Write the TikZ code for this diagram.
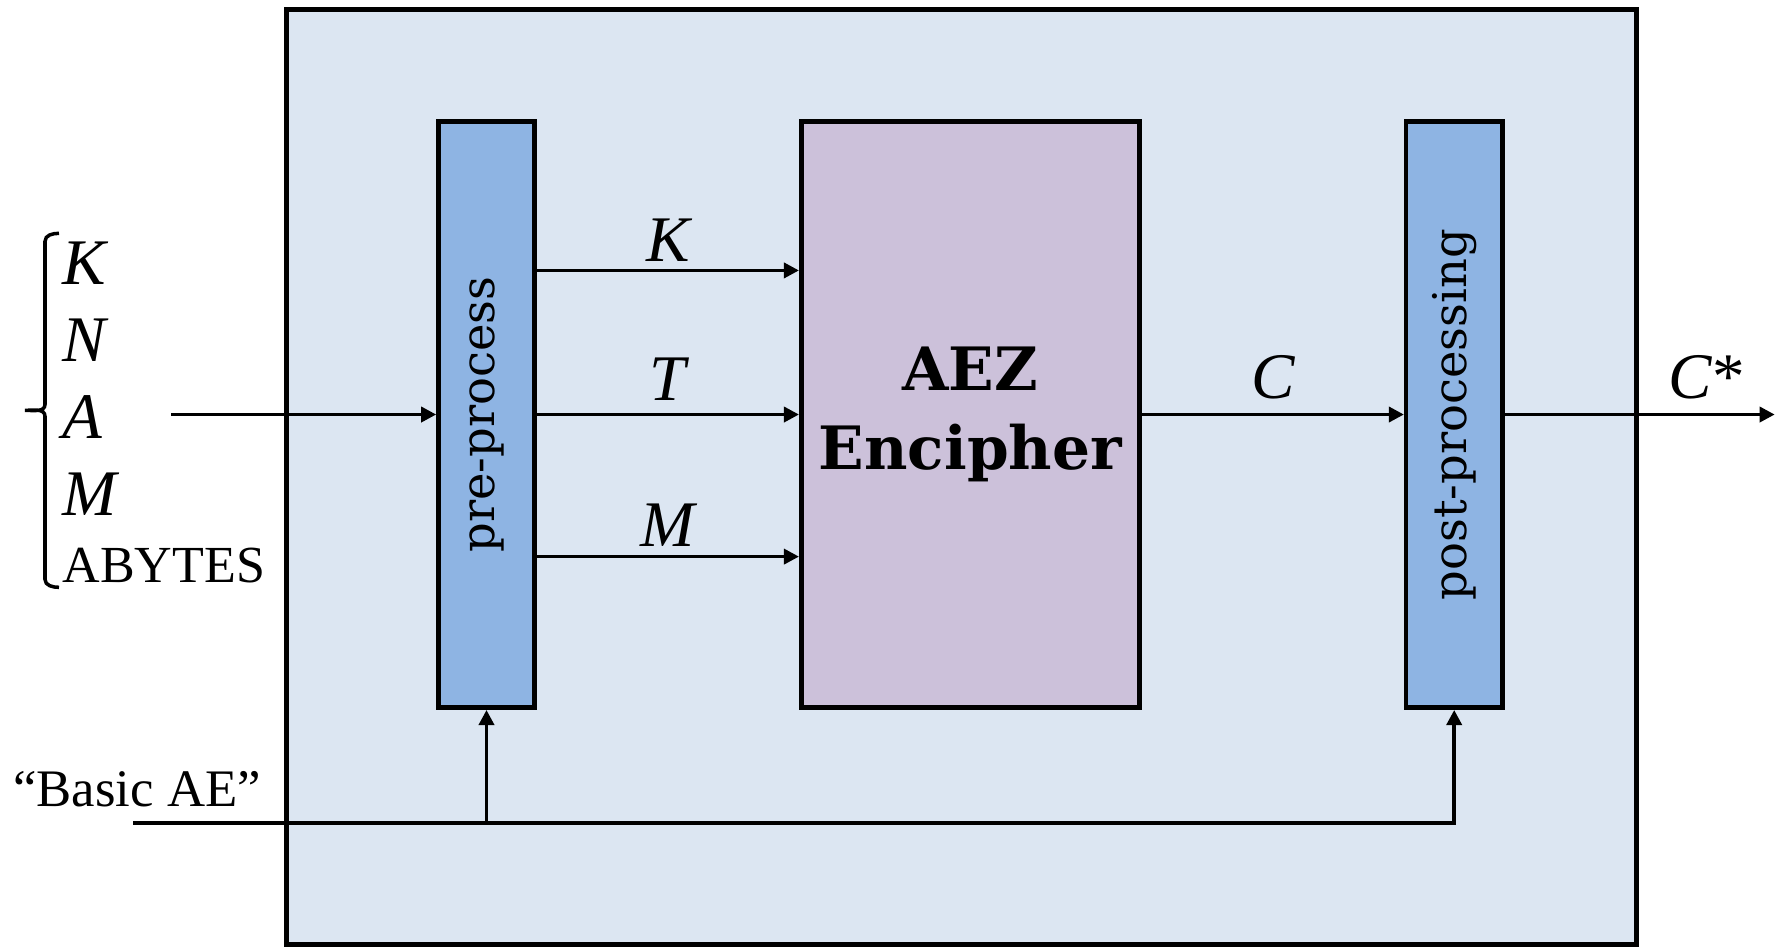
\documentclass[tikz,border=0pt]{standalone}
\usepackage{fontspec}
\setmainfont{Liberation Serif}
\newfontfamily\stagefont{DejaVu Serif}
\usepackage{xcolor}
\usetikzlibrary{arrows.meta, positioning}

\definecolor{framefill}{HTML}{DCE6F2}
\definecolor{stagefill}{HTML}{8EB4E3}
\definecolor{corefill}{HTML}{CCC1DA}

\begin{document}
\begin{tikzpicture}[
    x=0.01cm, y=-0.01cm,
    font=\fontsize{18.5}{21.9}\selectfont,
    node distance=2.62cm and 2.62cm,
    frame/.style={draw, line width=1.4pt, fill=framefill, minimum width=13.5cm, minimum height=9.35cm},
    stage/.style={draw, line width=1.3pt, fill=stagefill, minimum width=0.96cm, minimum height=5.86cm, inner sep=0pt, font=\stagefont\fontsize{13.2}{16}\selectfont},
    core/.style={draw, line width=1.3pt, fill=corefill, minimum width=3.38cm, minimum height=5.86cm, align=center, font=\stagefont\bfseries\fontsize{17}{22.5}\selectfont},
    arrow/.style={-{Triangle[length=4.3pt, width=4.3pt]}, line width=1pt},
    lbl/.style={inner sep=1pt, font=\itshape\fontsize{18.5}{21.9}\selectfont}
]

\useasboundingbox (0,0) rectangle (1776,947);

\node[frame] (box) at (961.5,477) {};

\node[stage] (pre) at (486.5,414.5) {\rotatebox{90}{pre-process}};
\node[core, right=of pre] (enc) {AEZ\\Encipher};
\node[stage, right=of enc] (post) {\rotatebox{90}{post-processing}};

% inputs
\node[anchor=west, align=left, inner sep=0pt] (ins) at (62,412.5)
    {\textit{K}\\\textit{N}\\\textit{A}\\\textit{M}\\[-2.9pt]{\fontsize{14.8}{21.9}\selectfont ABYTES}};
\draw[line width=1pt] ([xshift=-0.03cm, yshift=0.08cm]ins.north west)
    to[out=180, in=90] ++(-14,8) -- ++(0,163) to[out=-90, in=0] ++(-20,6)
    to[out=0, in=90] ++(20,6) -- ++(0,163) to[out=-90, in=180] ++(14,8);

\coordinate[left=2.65cm of pre.west] (src);
\draw[arrow] (src) -- (pre.west);

\draw[arrow] ([yshift=1.44cm]pre.east) -- ([yshift=1.44cm]enc.west) node[lbl, midway, above=1pt] {K};
\draw[arrow] (pre.east) -- (enc.west) node[lbl, midway, above=2.4pt] {T};
\draw[arrow] ([yshift=-1.42cm]pre.east) -- ([yshift=-1.42cm]enc.west) node[lbl, midway, above=1.3pt] {M};
\draw[arrow] (enc.east) -- (post.west) node[lbl, midway, above=3pt] {C};

\coordinate[right=2.7cm of post.east] (out);
\draw[arrow] (post.east) -- (out) node[lbl, pos=0.75, above=3pt] {C\textup{*}};

% mode
\coordinate (bae) at (133,823);
\node[anchor=base, inner sep=0pt, font=\fontsize{15}{18}\selectfont] (basic) at (137,806) {“Basic AE”};
\draw[arrow] (bae) -| (post.south);
\draw[arrow] (bae -| pre.south) -- (pre.south);

\end{tikzpicture}
\end{document}
